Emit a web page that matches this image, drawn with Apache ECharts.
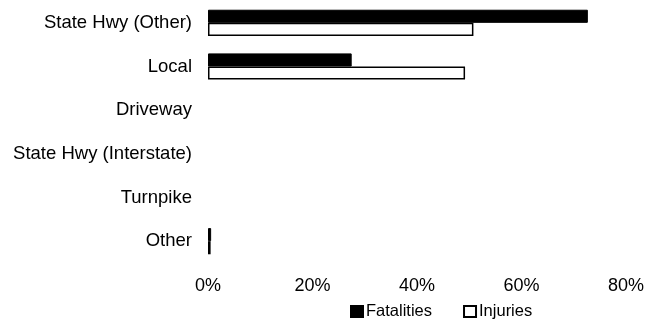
<!DOCTYPE html>
<html>
<head>
<meta charset="utf-8">
<script src="https://cdn.jsdelivr.net/npm/echarts@6/dist/echarts.min.js"></script>
<style>html,body{margin:0;padding:0;background:#fff;}#c{width:647px;height:321px;}</style>
</head>
<body>
<div id="c"></div>
<script>
var categories = ['State Hwy (Other)', 'Local', 'Driveway', 'State Hwy (Interstate)', 'Turnpike', 'Other'];
var fatalities = [72.7, 27.5, 0, 0, 0, 0.6];
var injuries = [50.8, 49.2, 0, 0, 0, 0.5];
var xTicks = [0, 20, 40, 60, 80];

function items(arr) {
  return arr.map(function (v) {
    return v === 0 ? { value: v, itemStyle: { borderWidth: 0 } } : v;
  });
}

var chart = echarts.init(document.getElementById('c'));
chart.setOption({
  animation: false,
  textStyle: { fontFamily: 'Liberation Sans, Arial, sans-serif' },
  grid: { left: 208, right: 21, top: 1, bottom: 58, containLabel: false },
  xAxis: {
    type: 'value', min: xTicks[0], max: xTicks[xTicks.length - 1], interval: 20,
    axisLine: { show: false }, axisTick: { show: false }, splitLine: { show: false },
    axisLabel: { formatter: '{value}%', color: '#000', fontSize: 18, margin: 14 }
  },
  yAxis: {
    type: 'category', data: categories, inverse: true,
    axisLine: { show: false }, axisTick: { show: false },
    axisLabel: { color: '#000', fontSize: 18.5, margin: 16 }
  },
  legend: {
    bottom: 1, left: 350, itemWidth: 12, itemHeight: 11, itemGap: 31,
    icon: 'rect', padding: 0,
    textStyle: { color: '#000', fontSize: 16.5, padding: [0, 0, 0, -2] },
    data: ['Fatalities', 'Injuries']
  },
  series: [
    { name: 'Fatalities', type: 'bar', data: items(fatalities), barGap: '0%', barCategoryGap: '40%',
      itemStyle: { color: '#000', borderColor: '#000', borderWidth: 1 } },
    { name: 'Injuries', type: 'bar', data: items(injuries),
      itemStyle: { color: '#fff', borderColor: '#000', borderWidth: 1.5 } }
  ]
});
</script>
</body>
</html>
